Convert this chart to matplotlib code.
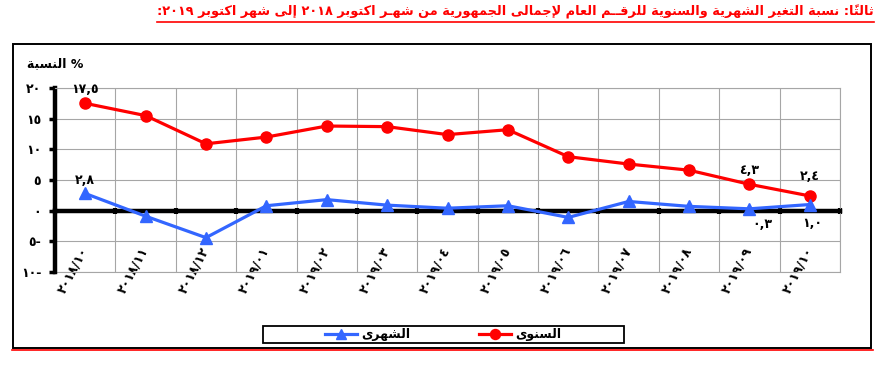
import re
import numpy as np
import matplotlib
matplotlib.use("Agg")
import matplotlib.pyplot as plt
from matplotlib.ticker import FixedLocator, FuncFormatter
from matplotlib.lines import Line2D
from matplotlib.patches import Rectangle

# ---- data ----
months = ["٢٠١٨/١٠", "٢٠١٨/١١", "٢٠١٨/١٢", "٢٠١٩/٠١", "٢٠١٩/٠٢", "٢٠١٩/٠٣", "٢٠١٩/٠٤",
          "٢٠١٩/٠٥", "٢٠١٩/٠٦", "٢٠١٩/٠٧", "٢٠١٩/٠٨", "٢٠١٩/٠٩", "٢٠١٩/١٠"]
annual = [17.5, 15.5, 10.9, 12.0, 13.8, 13.7, 12.4, 13.2, 8.8, 7.6, 6.6, 4.3, 2.4]
monthly = [2.8, -0.9, -4.4, 0.8, 1.8, 0.9, 0.4, 0.8, -1.1, 1.5, 0.7, 0.3, 1.0]
annual_labeled = [0, 11, 12]
monthly_labeled = [0, 11, 12]
yticks = [-10, -5, 0, 5, 10, 15, 20]

title = "ثالثاً: نسبة التغير الشهرية والسنوية للرقــم العام لإجمالى الجمهورية من شهـر اكتوبر ٢٠١٨ إلى شهر اكتوبر ٢٠١٩:"
ylabel = "% النسبة"
name_annual = "السنوى"
name_monthly = "الشهرى"

RED = "#FF0000"
BLUE = "#3366FF"
GRID = "#A6A6A6"

# ---- minimal arabic shaping (matplotlib has no complex text layout) ----
LETTERS = "ءآأؤإئابةتثجحخدذرزسشصضطظعغفقكلمنهوىي"
COUNTS = [1, 2, 2, 2, 2, 4, 2, 4, 2, 4, 4, 4, 4, 4, 2, 2, 2, 2, 4, 4, 4, 4, 4, 4,
          4, 4, 4, 4, 4, 4, 4, 4, 4, 2, 2, 4]
FORMS = {}
code = 0xFE80
for ch, n in zip(LETTERS, COUNTS):
    FORMS[ch] = [chr(code + k) for k in range(n)]
    code += n
for alef, base in zip("آأإا", [0xFEF5, 0xFEF7, 0xFEF9, 0xFEFB]):
    FORMS["ل" + alef] = [chr(base), chr(base + 1)]
AR_DIGITS = str.maketrans("0123456789", "٠١٢٣٤٥٦٧٨٩")


def is_mark(t):
    return len(t) == 1 and "\u064b" <= t <= "\u0652"


def is_dual(t):
    return t == "ـ" or (t in FORMS and len(FORMS[t]) == 4)


def is_joining(t):
    return t == "ـ" or (t in FORMS and len(FORMS[t]) > 1)


def shape(text):
    toks = []
    i = 0
    while i < len(text):
        if text[i] == "ل" and i + 1 < len(text) and text[i + 1] in "آأإا":
            toks.append(text[i:i + 2])
            i += 2
        else:
            toks.append(text[i])
            i += 1
    out = []
    for i, t in enumerate(toks):
        f = FORMS.get(t)
        if f is None:
            if is_mark(t) and out:
                out.insert(len(out) - 1, t)   # keep mark after its base once reversed
            else:
                out.append(t)
            continue
        j = i - 1
        while j >= 0 and is_mark(toks[j]):
            j -= 1
        k = i + 1
        while k < len(toks) and is_mark(toks[k]):
            k += 1
        p = len(f) > 1 and j >= 0 and is_dual(toks[j])
        n = len(f) == 4 and k < len(toks) and is_joining(toks[k])
        out.append(f[int(p) + 2 * int(n)])
    return "".join(out)


def ar(text):
    s = shape(text)
    runs = re.findall(r"[0-9\u0660-\u0669][0-9\u0660-\u0669,./]*|[^0-9\u0660-\u0669]+", s)
    return "".join(r if r[0].isdigit() else r[::-1] for r in reversed(runs))


def num(v):
    return f"{v:.1f}".replace(".", ",").translate(AR_DIGITS)


def yfmt(v, pos):
    s = str(abs(int(v))).translate(AR_DIGITS)
    return s + "-" if v < 0 else s


plt.rcParams["font.family"] = ["DejaVu Sans"]
plt.rcParams["font.weight"] = "bold"

fig = plt.figure(figsize=(8.84, 3.68), dpi=100)
W, H = 884.0, 368.0
ax = fig.add_axes([55 / W, 1 - 272 / H, 785 / W, 184 / H])

# spine position first: moving it resets the ticks
ax.spines["bottom"].set_position(("data", 0))
ax.spines["bottom"].set_linewidth(3.2)
ax.spines["left"].set_linewidth(3.2)
for s in ["top", "right"]:
    ax.spines[s].set_color(GRID)
    ax.spines[s].set_linewidth(0.8)

x = np.arange(len(months))
ax.plot(x, annual, color=RED, lw=2.3, marker="o", ms=8, zorder=4, label=ar(name_annual))
ax.plot(x, monthly, color=BLUE, lw=2.3, marker="^", ms=8, zorder=4, label=ar(name_monthly))

ax.set_xlim(-0.5, len(months) - 0.5)
ax.set_ylim(-10, 20)
ax.set_yticks(yticks)
ax.yaxis.set_major_formatter(FuncFormatter(yfmt))
ax.set_xticks(x)
ax.set_xticklabels(months, rotation=62, ha="right", va="center", rotation_mode="anchor", fontsize=9)
ax.xaxis.set_minor_locator(FixedLocator(np.arange(len(months) + 1) - 0.5))
ax.axhline(-10, color=GRID, lw=0.8, clip_on=False, zorder=1)

ax.tick_params(axis="x", which="major", length=0, pad=27)
ax.tick_params(axis="x", which="minor", direction="inout", length=4, width=3, color="black")
ax.tick_params(axis="y", direction="out", length=4, width=2.5, pad=6, labelsize=9)
ax.grid(axis="y", which="major", color=GRID, lw=0.8)
ax.grid(axis="x", which="minor", color=GRID, lw=0.8)
ax.set_axisbelow(True)

for i in annual_labeled:
    ax.annotate(num(annual[i]), (x[i], annual[i]), xytext=(0, 10 if i < 12 else 14),
                textcoords="offset points", ha="center", va="center", fontsize=9)
for i, dx, dy in zip(monthly_labeled, [0, 9, 2], [9, -11, -14]):
    ax.annotate(num(monthly[i]), (x[i], monthly[i]), xytext=(dx, dy),
                textcoords="offset points", ha="center", va="center", fontsize=9)

fig.text(27 / W, 1 - 64 / H, ar(ylabel), ha="left", va="center", fontsize=9)

# legend (monthly left, annual right) inside its own box
handles, labels = ax.get_legend_handles_labels()
fig.legend(handles[::-1], labels[::-1], loc="center", bbox_to_anchor=(443 / W, 1 - 334.5 / H),
           ncol=2, frameon=False, fontsize=9, handlelength=2.6, handletextpad=0.3,
           columnspacing=5.5, markerscale=0.9)
fig.add_artist(Rectangle((263 / W, 1 - 343 / H), 361 / W, 17 / H, transform=fig.transFigure,
                         fill=False, ec="black", lw=1.3))

# outer frame and red rules
fig.add_artist(Rectangle((13 / W, 1 - 348 / H), 858 / W, 304 / H, transform=fig.transFigure,
                         fill=False, ec="black", lw=1.4))
fig.add_artist(Line2D([12 / W, 873 / W], [1 - 350 / H] * 2, transform=fig.transFigure,
                      color=RED, lw=1.2))

t = fig.text(874 / W, 1 - 12 / H, ar(title), ha="right", va="center", color=RED, fontsize=9.3)
fig.canvas.draw()
bb = t.get_window_extent().transformed(fig.transFigure.inverted())
fig.add_artist(Line2D([bb.x0, bb.x1], [1 - 22 / H] * 2, transform=fig.transFigure, color=RED, lw=1.2))

fig.savefig("out.png", dpi=100)
